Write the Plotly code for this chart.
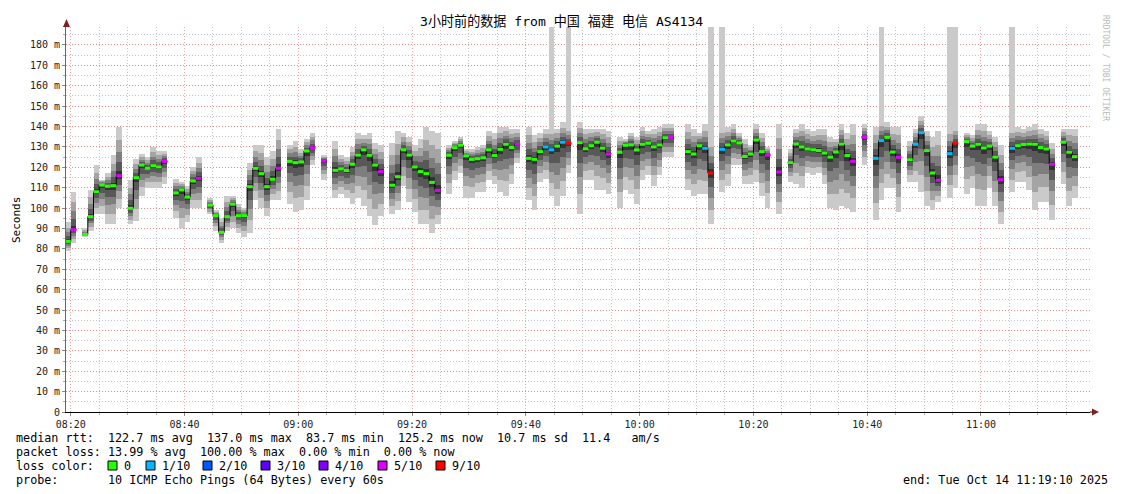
import plotly.graph_objects as go
from datetime import datetime, timedelta

# ---------------- data ----------------
first_slot = datetime(2025, 10, 14, 8, 19, 0)      # start of first 60 s step
range_start = datetime(2025, 10, 14, 8, 19, 10)
range_end = datetime(2025, 10, 14, 11, 19, 10)
step_seconds = 60

median_ms = [
    83.7, 89.4, None, 87.1, 95.8, 108.0, 111.3, 110.7, 111.0, 115.9,
    None, 99.9, 114.9, 121.1, 119.5, 120.8, 120.2, 122.9, None, 107.4,
    108.9, 105.4, 113.3, 114.6, None, 101.5, 96.3, 88.1, 95.8, 101.9,
    96.3, 96.3, 110.5, 119.5, 116.9, 110.5, 114.1, 119.5, None, 122.9,
    122.3, 122.6, 128.0, 129.6, None, 123.1, None, 118.5, 119.2, 118.4,
    121.5, 126.0, 128.6, 125.9, 121.1, 117.9, None, 111.2, 115.4, 128.6,
    126.0, 120.2, 117.9, 116.9, 112.6, 108.7, None, 125.9, 129.6, 130.8,
    125.6, 123.9, 124.2, 124.7, 128.6, 125.8, 128.8, 131.3, 129.7, 131.3,
    None, 124.4, 123.9, 127.7, 130.0, 128.6, 130.4, 132.3, 131.8, None,
    132.1, 129.1, 130.6, 132.3, 129.4, 126.5, None, 127.4, 130.8, 131.0,
    128.5, 131.3, 131.8, 130.0, 131.0, 134.5, 134.7, None, None, 127.7,
    126.5, 130.6, 129.3, 117.2, None, 128.8, 131.0, 132.9, 131.9, 125.3,
    126.5, 133.4, 127.7, 126.0, None, 117.7, None, 122.3, 131.4, 130.0,
    129.0, 128.6, 128.2, 127.0, 125.0, 127.5, 131.4, 125.8, 122.9, None,
    134.7, None, 124.4, 133.1, 134.7, 127.5, 124.9, None, 123.7, 131.3,
    137.0, 128.2, 117.2, 113.6, None, 126.7, 131.8, None, 132.6, 130.4,
    131.3, 129.5, 130.4, 125.0, 113.9, None, 129.3, 130.6, 131.2, 131.4,
    131.3, 129.7, 129.0, 121.5, None, 132.3, 127.4, 125.2,
]

loss_count = [
    0, 5, 10, 0, 0, 0, 0, 0, 0, 5,
    10, 0, 0, 0, 0, 0, 0, 5, 10, 0,
    0, 0, 0, 5, 10, 0, 0, 0, 0, 0,
    0, 0, 0, 0, 0, 0, 0, 5, 10, 0,
    0, 0, 0, 5, 10, 5, 10, 0, 0, 0,
    0, 0, 0, 0, 0, 5, 10, 0, 0, 0,
    0, 0, 0, 0, 0, 5, 10, 0, 0, 0,
    0, 0, 0, 0, 0, 0, 0, 0, 0, 5,
    10, 0, 0, 0, 1, 1, 0, 1, 9, 10,
    0, 0, 0, 0, 0, 5, 10, 0, 0, 0,
    0, 0, 0, 0, 0, 0, 5, 10, 10, 0,
    0, 0, 1, 9, 10, 1, 0, 0, 0, 0,
    0, 0, 0, 5, 10, 5, 10, 0, 0, 0,
    0, 0, 0, 0, 0, 0, 0, 0, 5, 10,
    5, 10, 1, 1, 0, 0, 5, 10, 0, 1,
    1, 0, 0, 5, 10, 1, 9, 10, 0, 0,
    0, 0, 0, 0, 5, 10, 1, 0, 0, 0,
    0, 0, 0, 5, 10, 0, 0, 0,
]

rtt_min = [
    79, 83, None, 86, 89, 97, 97, 92, 92, 100,
    None, 92, 93.5, 106, 110, 110, 110, 112, None, 95,
    90, 93, 100, 100, None, 97, 89, 83, 89, 90,
    88, 86, 88, 104, 100, 96, 104, 104, None, 102,
    98, 99, 104, 121, None, 114, None, 105, 107, 105,
    102, 105, 101, 96, 91.5, 96, None, 97, 99, 111,
    103, 98, 92, 92, 88, 92, None, 107, 114, 117,
    105, 105, 108, 108, 114, 112, 108, 106, 112, 122,
    None, 104, 99, 113, 114.5, 106, 101, 106, 117, None,
    97, 114, 114, 109, 109, 107, None, 100, 109, 107,
    102, 114, 116, 111, 116, 125, 125, None, None, 109,
    106, 107, 107, 92, None, 108, 111, 121, 121, 112,
    112, 113, 106, 100, None, 97, None, 113, 112, 110,
    117, 116, 117, 112, 100, 99, 101, 100, 98, None,
    121, None, 94, 104, 110, 110, 98, None, 113, 113,
    108, 101, 99, 103, None, 105, 110, None, 107, 110,
    101, 101, 110, 101, 92, None, 108, 113, 113, 109,
    99, 103, 103, 94, None, 112, 101, 105,
]

rtt_max = [
    93, 108, None, 90, 109, 121, 114, 117, 126, 140,
    None, 114, 124, 126.5, 125, 130, 128, 128, None, 114.5,
    113, 111, 120, 125, None, 105, 99, 95, 106, 106,
    102, 100, 122, 131, 131, 125, 128, 139, None, 131,
    133, 129, 134, 137, None, 126, None, 133, 126, 125,
    130, 137, 136, 137, 132, 131, None, 132, 138, 137,
    135, 131, 134, 140, 138, 137, None, 131, 133, 135,
    129, 129, 130, 131, 138, 137, 140, 140, 139, 139,
    None, 140, 136, 137, 139, 139, 139, 142, 140, None,
    142, 139, 139, 139, 139, 138, None, 135, 134, 137,
    135, 140, 138, 139, 140, 141, 141, None, None, 141,
    139, 137, 141, 135, None, 140, 140, 141, 137, 134,
    131, 141, 137, 130, None, 141, None, 129, 139, 141,
    139, 138, 139, 139, 135, 134, 141, 137, 141, None,
    141, None, 140, 143, 142, 140, 140, None, 133, 139,
    145, 138, 135, 138, None, 140, 140, None, 137, 136,
    141, 141, 138, 135, 131, None, 140, 140, 139, 140,
    141, 139, 138, 132, None, 139, 139, 139,
]

# slots where one ping went off the top of the chart
spike_slots = [85, 88, 113, 115, 143, 155, 156, 166]
spike_top = 200

loss_levels = [0, 1, 2, 3, 4, 5, 9]
loss_labels = ["0", "1/10", "2/10", "3/10", "4/10", "5/10", "9/10"]
loss_colors = ["#26ff00", "#00b8ff", "#0059ff", "#5e00ff", "#7e00ff", "#dd00ff", "#ff0000"]

smoke_greys = ["#cacaca", "#a4a4a4", "#7e7e7e", "#585858", "#323232"]
smoke_fracs = [1.0, 0.72, 0.48, 0.28, 0.1]

y_tick_vals = [0, 10, 20, 30, 40, 50, 60, 70, 80, 90, 100, 110, 120, 130, 140, 150, 160, 170, 180]
y_tick_text = ["0", "10 m", "20 m", "30 m", "40 m", "50 m", "60 m", "70 m", "80 m", "90 m",
               "100 m", "110 m", "120 m", "130 m", "140 m", "150 m", "160 m", "170 m", "180 m"]

title_text = "3小时前的数据 from 中国 福建 电信 AS4134"
line_median = "median rtt:  122.7 ms avg  137.0 ms max  83.7 ms min  125.2 ms now  10.7 ms sd  11.4   am/s"
line_loss = "packet loss: 13.99 % avg  100.00 % max  0.00 % min  0.00 % now"
line_probe = "probe:       10 ICMP Echo Pings (64 Bytes) every 60s"
line_end = "end: Tue Oct 14 11:19:10 2025"

# ---------------- geometry ----------------
# page body has an 8px margin: the figure is drawn 8px smaller and shifted
PAGE_OFF = 8
W, H = 1121 - PAGE_OFF, 494 - PAGE_OFF
PLOT_L, PLOT_T, PLOT_W, PLOT_H = 66, 27, 1024, 385   # in page pixels
ML = PLOT_L - PAGE_OFF
MT = PLOT_T - PAGE_OFF
MR = W - ML - PLOT_W
MB = H - MT - PLOT_H
Y_TOP = 188.8


def px(xp):
    return (xp - PLOT_L) / PLOT_W


def py(yp):
    return (PLOT_T + PLOT_H - yp) / PLOT_H


def fmt(t):
    return t.strftime("%Y-%m-%d %H:%M:%S")


n = len(median_ms)
slot_start = [first_slot + timedelta(seconds=step_seconds * i) for i in range(n)]
slot_end = [s + timedelta(seconds=step_seconds) for s in slot_start]
slot_mid = [s + timedelta(seconds=step_seconds / 2) for s in slot_start]

fig = go.Figure()

# smoke layers
for k, (grey, f) in enumerate(zip(smoke_greys, smoke_fracs)):
    xs, bases, heights = [], [], []
    for i in range(n):
        m = median_ms[i]
        if m is None:
            continue
        lo = m - f * (m - rtt_min[i])
        hi = m + f * (rtt_max[i] - m)
        if k == 0 and i in spike_slots:
            hi = spike_top
        xs.append(fmt(slot_mid[i]))
        bases.append(lo)
        heights.append(hi - lo)
    fig.add_trace(go.Bar(x=xs, y=heights, base=bases, width=step_seconds * 1000,
                         marker=dict(color=grey, line=dict(width=0)),
                         showlegend=False, hoverinfo="skip"))

# black median step line
lx, ly = [], []
for i in range(n):
    m = median_ms[i]
    if m is None:
        continue
    lx += [fmt(slot_start[i]), fmt(slot_end[i])]
    ly += [m, m]
    if i + 1 >= n or median_ms[i + 1] is None:
        lx.append(None)
        ly.append(None)
fig.add_trace(go.Scatter(x=lx, y=ly, mode="lines", line=dict(color="#000000", width=1),
                         showlegend=False, hoverinfo="skip"))


def loss_bucket(c):
    for j, lv in enumerate(loss_levels):
        if c <= lv:
            return j
    return None


# loss coloured median markers
for j, col in enumerate(loss_colors):
    bx, by = [], []
    for i in range(n):
        m = median_ms[i]
        if m is None or loss_bucket(loss_count[i]) != j:
            continue
        bx += [fmt(slot_start[i]), fmt(slot_end[i]), None]
        by += [m, m, None]
    if bx:
        fig.add_trace(go.Scatter(x=bx, y=by, mode="lines", line=dict(color=col, width=3),
                                 showlegend=False, hoverinfo="skip"))

mono = "DejaVu Sans Mono"
TXT = 11.75

annotations = [
    dict(text=title_text, x=px(561), y=py(21), xanchor="center", yanchor="middle",
         font=dict(family=mono + ", Noto Sans CJK SC", size=13.1, color="#000")),
    dict(text="Seconds", x=px(16), y=py(220), textangle=-90, xanchor="center", yanchor="middle",
         font=dict(family=mono, size=11, color="#000")),
    dict(text="RRDTOOL / TOBI OETIKER", x=px(1106), y=py(68), textangle=90,
         xanchor="center", yanchor="middle", font=dict(family=mono, size=8, color="#bbbbbb")),
    dict(text=line_median.replace(" ", "\u00a0"), x=px(14), y=py(438), xanchor="left", yanchor="middle",
         font=dict(family=mono, size=TXT, color="#000")),
    dict(text=line_loss.replace(" ", "\u00a0"), x=px(14), y=py(452), xanchor="left", yanchor="middle",
         font=dict(family=mono, size=TXT, color="#000")),
    dict(text="loss\u00a0color:", x=px(14), y=py(466), xanchor="left", yanchor="middle",
         font=dict(family=mono, size=TXT, color="#000")),
    dict(text=line_probe.replace(" ", "\u00a0"), x=px(14), y=py(480), xanchor="left", yanchor="middle",
         font=dict(family=mono, size=TXT, color="#000")),
    dict(text=line_end.replace(" ", "\u00a0"), x=px(1110), y=py(480), xanchor="right", yanchor="middle",
         font=dict(family=mono, size=TXT, color="#000")),
]

shapes = []
box_left = [108, 146, 203, 261, 319, 378, 436]
for bl, lab, col in zip(box_left, loss_labels, loss_colors):
    shapes.append(dict(type="rect", xref="paper", yref="paper",
                       x0=px(bl), x1=px(bl + 9), y0=py(470), y1=py(461),
                       fillcolor=col, line=dict(color="#000", width=1)))
    annotations.append(dict(text=lab, x=px(bl + 14), y=py(466), xanchor="left", yanchor="middle",
                            font=dict(family=mono, size=TXT, color="#000")))

for a in annotations:
    a.update(xref="paper", yref="paper", showarrow=False)

# axis arrows
shapes.append(dict(type="path", xref="paper", yref="paper",
                   path=f"M {px(66.5)} {py(19)} L {px(63)} {py(27)} L {px(70)} {py(27)} Z",
                   fillcolor="#7f1f1f", line=dict(width=0)))
shapes.append(dict(type="line", xref="paper", yref="paper",
                   x0=1.0, x1=px(1093), y0=py(412), y1=py(412), line=dict(color="#000", width=1)))
shapes.append(dict(type="path", xref="paper", yref="paper",
                   path=f"M {px(1099)} {py(412)} L {px(1092)} {py(408.5)} L {px(1092)} {py(415.5)} Z",
                   fillcolor="#7f1f1f", line=dict(width=0)))

red_grid = "rgba(230,100,100,0.6)"
grey_grid = "#c4c4c4"
dots = "1px,2px"

fig.update_layout(
    width=W, height=H,
    margin=dict(l=ML, r=MR, t=MT, b=MB, autoexpand=False),
    paper_bgcolor="#ffffff", plot_bgcolor="#ffffff",
    barmode="overlay", bargap=0,
    showlegend=False,
    annotations=annotations,
    shapes=shapes,
    xaxis=dict(
        type="date", range=[fmt(range_start), fmt(range_end)],
        tick0="2025-10-14 08:20:00", dtick=20 * 60 * 1000, tickformat="%H:%M",
        showgrid=True, gridcolor=red_grid, griddash=dots, gridwidth=1,
        ticks="outside", ticklen=3, tickcolor="#888888",
        showline=True, linecolor="#000000", linewidth=1, zeroline=False,
        tickfont=dict(family=mono, size=10, color="#222222"),
        minor=dict(tick0="2025-10-14 08:20:00", dtick=5 * 60 * 1000, showgrid=True,
                   gridcolor=grey_grid, griddash=dots, gridwidth=1,
                   ticks="outside", ticklen=2, tickcolor="#aaaaaa"),
        fixedrange=True,
    ),
    yaxis=dict(
        range=[0, Y_TOP], tickmode="array", tickvals=y_tick_vals, ticktext=y_tick_text,
        showgrid=True, gridcolor=red_grid, griddash=dots, gridwidth=1,
        ticks="outside", ticklen=3, tickcolor="#888888",
        showline=True, linecolor="#666666", linewidth=1, zeroline=False,
        tickfont=dict(family=mono, size=10, color="#222222"),
        minor=dict(tick0=0, dtick=5, showgrid=True, gridcolor=grey_grid, griddash=dots,
                   gridwidth=1, ticks="outside", ticklen=2, tickcolor="#aaaaaa"),
        fixedrange=True,
    ),
)

fig.write_html("out.html")
